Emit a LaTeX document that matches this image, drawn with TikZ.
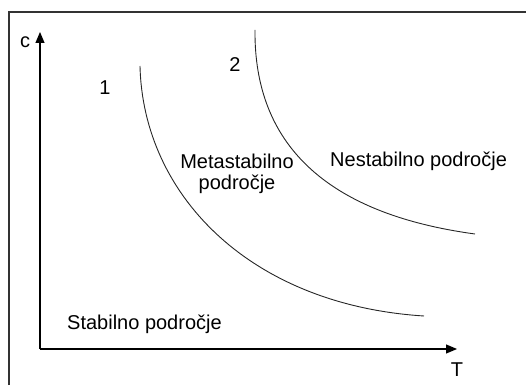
\documentclass[tikz,border=0pt]{standalone}
\usepackage{fontspec}
\setmainfont{Liberation Sans}
\usepackage{tikz}
\usetikzlibrary{arrows.meta}

\begin{document}
\begin{tikzpicture}[
    x=1pt, y=1pt,
    frame/.style={line width=2pt, black!80},
    axis/.style={line width=1.1pt, -{Triangle[length=11pt, width=9pt]}},
    curve/.style={line width=0.9pt, black!85},
    txt/.style={font=\fontsize{20}{21}\selectfont, inner sep=0pt}
]
\useasboundingbox (0,0) rectangle (526,385);

% Frame (top and left edges)
\coordinate (fbl) at (9,0);
\coordinate (ftl) at (9,372.5);
\coordinate (ftr) at (526,372.5);
\draw[frame] (fbl) -- (ftl) -- (ftr);

% Axes
\coordinate (O) at (40,36);
\coordinate (cend) at (40,353);
\coordinate (Tend) at (457,36);
\draw[axis] (O) -- (cend);
\draw[axis] (O) -- (Tend);
\node[txt, anchor=base] (c) at (25,337) {c};
\node[txt, anchor=base] (T) at (457,9) {T};

% Curve 1
\coordinate (a1) at (140,319);
\coordinate (a2) at (424,69);
\draw[curve] (a1) .. controls (143,190) and (250,80) .. (a2);
\node[txt, anchor=base] (n1) at (105,290) {1};

% Curve 2
\coordinate (b1) at (255,355);
\coordinate (b2) at (475,151);
\draw[curve] (b1) .. controls (254,258) and (306,174) .. (b2);
\node[txt, anchor=base] (n2) at (235,313) {2};

% Regions
\node[txt, anchor=base, align=center] (meta) at (237,195) {Metastabilno\\področje};
\node[txt, anchor=base west] (nest) at (330,218) {Nestabilno področje};
\node[txt, anchor=base west] (stab) at (67,56) {Stabilno področje};

\end{tikzpicture}
\end{document}
